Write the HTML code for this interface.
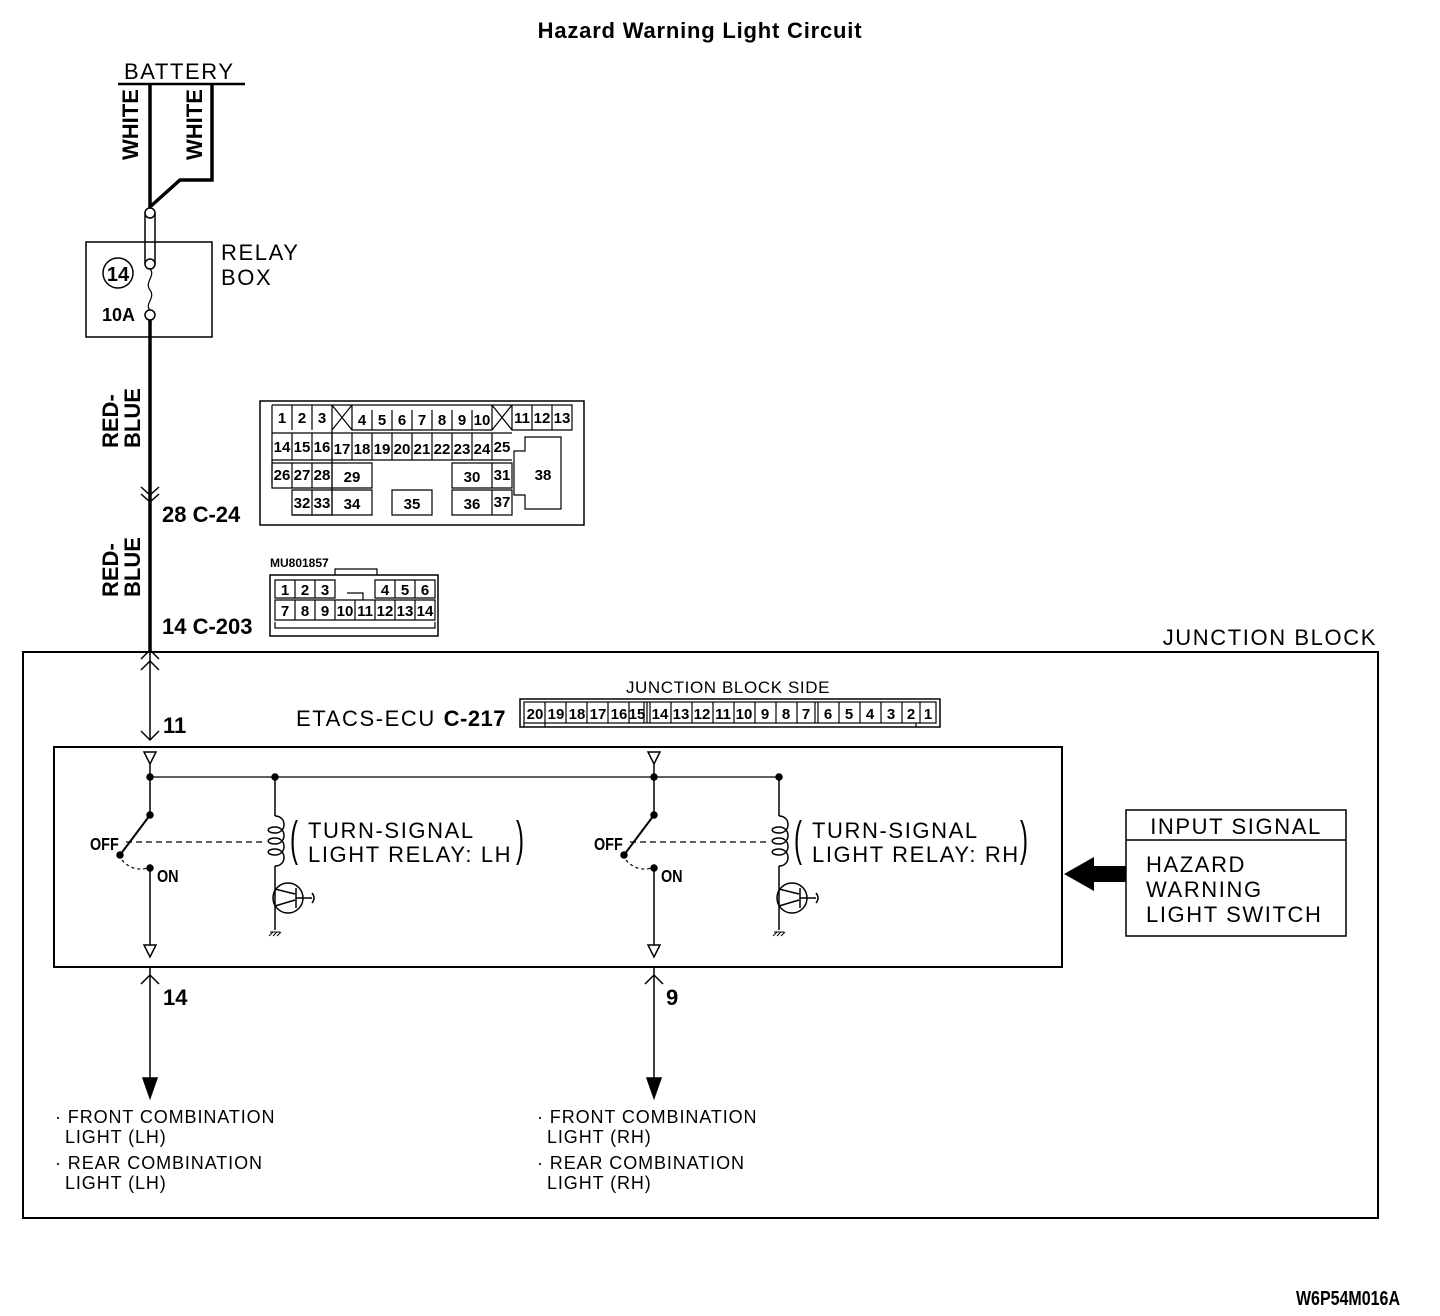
<!DOCTYPE html>
<html><head><meta charset="utf-8"><style>
body{margin:0;background:#fff}
svg{display:block}
text{font-family:"Liberation Sans",sans-serif;fill:#000}
.b{font-weight:bold}
.w{letter-spacing:1.6px}
.s{letter-spacing:0.9px}
.c{font-family:"Liberation Sans Narrow","Liberation Sans",sans-serif;font-weight:bold;font-size:15px;text-anchor:middle}
</style></head><body>
<svg width="1440" height="1316" viewBox="0 0 1440 1316" xmlns="http://www.w3.org/2000/svg" fill="none" stroke="#000">
<text x="700" y="38" class="b" font-size="22" text-anchor="middle" stroke="none" letter-spacing="0.8">Hazard Warning Light Circuit</text>
<!-- battery -->
<text x="124" y="79" font-size="22" stroke="none" class="w">BATTERY</text>
<line x1="118" y1="84" x2="245" y2="84" stroke-width="2.5"/>
<path d="M150 84V208" stroke-width="3.5"/>
<path d="M212 84V180H180L151 206" stroke-width="3.5"/>
<text transform="translate(138,160) rotate(-90)" class="b" font-size="22" stroke="none">WHITE</text>
<text transform="translate(202,160) rotate(-90)" class="b" font-size="22" stroke="none">WHITE</text>
<!-- relay box -->
<rect x="86" y="242" width="126" height="95" stroke-width="1.5"/>
<path d="M145 213V264M155 213V264" stroke-width="1.5"/>
<circle cx="150" cy="213" r="5" fill="#fff" stroke-width="1.5"/>
<circle cx="150" cy="264" r="5" fill="#fff" stroke-width="1.5"/>
<circle cx="150" cy="315" r="5" fill="#fff" stroke-width="1.5"/>
<path d="M150 269C156 276 144 282 150 290C156 298 144 304 150 310" stroke-width="1.2"/>
<circle cx="118" cy="273" r="15" stroke-width="1.5"/>
<text x="118" y="281" class="b" font-size="20" text-anchor="middle" stroke="none">14</text>
<text x="102" y="321" class="b" font-size="18" stroke="none">10A</text>
<text x="221" y="260" font-size="22" stroke="none" class="w">RELAY</text>
<text x="221" y="285" font-size="22" stroke="none" class="w">BOX</text>
<path d="M150 320V652" stroke-width="3.5"/>
<text transform="translate(118,448) rotate(-90)" class="b" font-size="22" stroke="none">RED-</text>
<text transform="translate(140,448) rotate(-90)" class="b" font-size="22" stroke="none">BLUE</text>
<text transform="translate(118,597) rotate(-90)" class="b" font-size="22" stroke="none">RED-</text>
<text transform="translate(140,597) rotate(-90)" class="b" font-size="22" stroke="none">BLUE</text>
<path d="M141 487L150 495L159 487M141 494L150 502L159 494" stroke-width="1.5"/>
<text x="162" y="522" class="b" font-size="22" stroke="none">28 C-24</text>
<path d="M141 659L150 650L159 659M141 670L150 661L159 670" stroke-width="1.5"/>
<text x="162" y="634" class="b" font-size="22" stroke="none">14 C-203</text>
<!-- C-24 connector -->
<g stroke-width="1.2">
<rect x="260" y="401" width="324" height="124" stroke-width="1.5"/>
<path d="M272 405h60v110h-40M272 405v80M332 405h20l-20 25M332 405l20 25M352 405h140v25h-140zM492 405h20l-20 25M492 405l20 25M512 405h60v25h-60z"/>
<path d="M292 405v25M312 405v25M372 410v20M392 410v20M412 410v20M432 410v20M452 410v20M472 410v20M532 405v25M552 405v25"/>
<path d="M272 433h240M272 460h240M352 433v27M372 433v27M392 433v27M412 433v27M432 433v27M452 433v27M472 433v27M492 433v27M292 433v27M312 433v27M332 433v27"/>
<path d="M272 463h60v25h-60zM292 463v25M312 463v25M332 463h40v25h-40zM452 463h40v25h-40zM492 463h20v25h-20z"/>
<path d="M292 490h40v25h-40zM312 490v25M332 490h40v25h-40zM392 490h40v25h-40zM452 490h40v25h-40zM492 490h20v25h-20z"/>
<path d="M525 437h36v72h-36v-14h-11v-44h11z"/>
</g>
<g stroke="none" class="c">
<text x="282" y="423" class="c">1</text><text x="302" y="423" class="c">2</text><text x="322" y="423" class="c">3</text>
<text x="362" y="425" class="c">4</text><text x="382" y="425" class="c">5</text><text x="402" y="425" class="c">6</text><text x="422" y="425" class="c">7</text><text x="442" y="425" class="c">8</text><text x="462" y="425" class="c">9</text><text x="482" y="425" class="c">10</text>
<text x="522" y="423" class="c">11</text><text x="542" y="423" class="c">12</text><text x="562" y="423" class="c">13</text>
<text x="282" y="452" class="c">14</text><text x="302" y="452" class="c">15</text><text x="322" y="452" class="c">16</text><text x="342" y="454" class="c">17</text><text x="362" y="454" class="c">18</text><text x="382" y="454" class="c">19</text><text x="402" y="454" class="c">20</text><text x="422" y="454" class="c">21</text><text x="442" y="454" class="c">22</text><text x="462" y="454" class="c">23</text><text x="482" y="454" class="c">24</text><text x="502" y="452" class="c">25</text>
<text x="282" y="480" class="c">26</text><text x="302" y="480" class="c">27</text><text x="322" y="480" class="c">28</text><text x="352" y="482" class="c">29</text><text x="472" y="482" class="c">30</text><text x="502" y="480" class="c">31</text><text x="543" y="480" class="c">38</text>
<text x="302" y="508" class="c">32</text><text x="322" y="508" class="c">33</text><text x="352" y="509" class="c">34</text><text x="412" y="509" class="c">35</text><text x="472" y="509" class="c">36</text><text x="502" y="507" class="c">37</text>
</g>
<!-- C-203 -->
<text x="270" y="567" class="b" font-size="12" stroke="none">MU801857</text>
<g stroke-width="1.2">
<rect x="270" y="575" width="168" height="61" stroke-width="1.5"/>
<path d="M335 575v-6h42v6"/>
<path d="M275 580h60v18h-60zM295 580v18M315 580v18M375 580h60v18h-60zM395 580v18M415 580v18"/>
<path d="M275 600h160v20h-160zM295 600v20M315 600v20M335 600v20M355 600v20M375 600v20M395 600v20M415 600v20M347 593h16v7"/>
<path d="M275 622v6h160v-6"/>
</g>
<g stroke="none">
<text x="285" y="595" class="c">1</text><text x="305" y="595" class="c">2</text><text x="325" y="595" class="c">3</text><text x="385" y="595" class="c">4</text><text x="405" y="595" class="c">5</text><text x="425" y="595" class="c">6</text>
<text x="285" y="616" class="c">7</text><text x="305" y="616" class="c">8</text><text x="325" y="616" class="c">9</text><text x="345" y="616" class="c">10</text><text x="365" y="616" class="c">11</text><text x="385" y="616" class="c">12</text><text x="405" y="616" class="c">13</text><text x="425" y="616" class="c">14</text>
</g>
<!-- junction block -->
<rect x="23" y="652" width="1355" height="566" stroke-width="2"/>
<text x="1377" y="645" font-size="22" text-anchor="end" stroke="none" class="w">JUNCTION BLOCK</text>
<path d="M150 652V740" stroke-width="1.5"/>
<path d="M141 731L150 740L159 731" stroke-width="1.5"/>
<text x="163" y="733" class="b" font-size="22" stroke="none">11</text>
<text x="296" y="726" font-size="22" stroke="none" class="w">ETACS-ECU <tspan class="b" letter-spacing="0.5">C-217</tspan></text>
<text x="728" y="693" font-size="17" text-anchor="middle" stroke="none" letter-spacing="0.6">JUNCTION BLOCK SIDE</text>
<g stroke-width="1.2">
<rect x="520" y="699" width="420" height="28" stroke-width="1.5"/>
<rect x="524" y="702" width="412" height="21"/>
<path d="M545 702v21M566 702v21M587 702v21M608 702v21M629 702v21M650 702v21M647 702v21M671 702v21M692 702v21M713 702v21M734 702v21M755 702v21M776 702v21M797 702v21M815 702v21M818 702v21M839 702v21M860 702v21M881 702v21M902 702v21M920 702v21M644 702v21"/>
<path d="M524 723v4M545 723v4M916 723v4"/>
</g>
<g stroke="none">
<text x="535" y="719" class="c">20</text><text x="556" y="719" class="c">19</text><text x="577" y="719" class="c">18</text><text x="598" y="719" class="c">17</text><text x="619" y="719" class="c">16</text><text x="637" y="719" class="c">15</text><text x="660" y="719" class="c">14</text><text x="681" y="719" class="c">13</text><text x="702" y="719" class="c">12</text><text x="723" y="719" class="c">11</text><text x="744" y="719" class="c">10</text><text x="765" y="719" class="c">9</text><text x="786" y="719" class="c">8</text><text x="806" y="719" class="c">7</text><text x="828" y="719" class="c">6</text><text x="849" y="719" class="c">5</text><text x="870" y="719" class="c">4</text><text x="891" y="719" class="c">3</text><text x="911" y="719" class="c">2</text><text x="928" y="719" class="c">1</text>
</g>
<!-- ECU box -->
<rect x="54" y="747" width="1008" height="220" stroke-width="2"/>
<path d="M150 777H780" stroke-width="1.3"/>
<g id="half" stroke-width="1.5">
<path d="M144 752h12l-6 12zM150 764V815" />
<path d="M150 815L120 855" stroke-width="2"/>
<circle cx="150" cy="815" r="3" fill="#000"/>
<circle cx="120" cy="855" r="3" fill="#000"/>
<circle cx="150" cy="868" r="3" fill="#000"/>
<circle cx="150" cy="777" r="3" fill="#000"/>
<circle cx="275" cy="777" r="3" fill="#000"/>
<path d="M122 860Q132 872 148 868" stroke-dasharray="3,3" stroke-width="1.2"/>
<path d="M126 842H266" stroke-dasharray="6,4" stroke-width="1.2"/>
<path d="M150 868V945M144 945h12l-6 12z"/>
<path d="M275 777V816M275 866V930"/>
<path d="M275 816c12 0 12 17 0 17c-9 0 -9 -6 0 -6c12 0 12 17 0 17c-9 0 -9 -6 0 -6c12 0 12 17 0 17c-9 0 -9 -6 0 -6c12 0 12 17 0 17"/>
<circle cx="288" cy="898" r="15"/>
<path d="M275 889L295 894M275 906L295 900M296 888V908M296 898H312M312 893q4 5 0 10"/>
<path d="M270 932h10M269 936l4 -4M273 936l4 -4M277 936l4 -4" stroke-width="1"/>
<text x="90" y="850" class="b" font-size="18" stroke="none" transform="translate(90,850) scale(0.8,1) translate(-90,-850)">OFF</text>
<text x="157" y="882" class="b" font-size="18" stroke="none" transform="translate(157,882) scale(0.8,1) translate(-157,-882)">ON</text>
<text x="290" y="855" font-size="48" stroke="none" transform="translate(290,855) scale(0.5,1) translate(-290,-855)">(</text>
<text x="308" y="838" font-size="22" stroke="none" class="w">TURN-SIGNAL</text>
</g>
<text x="308" y="862" font-size="22" stroke="none" class="w">LIGHT RELAY: LH</text>
<text x="516" y="855" font-size="48" stroke="none" transform="translate(516,855) scale(0.5,1) translate(-516,-855)">)</text>
<use href="#half" x="504"/>
<text x="812" y="862" font-size="22" stroke="none" class="w">LIGHT RELAY: RH</text>
<text x="1020" y="855" font-size="48" stroke="none" transform="translate(1020,855) scale(0.5,1) translate(-1020,-855)">)</text>
<!-- outputs -->
<g stroke-width="1.5">
<path d="M150 967V1080M141 984L150 975L159 984"/>
<path d="M143 1078h14l-7 20z" fill="#000"/>
<path d="M654 967V1080M645 984L654 975L663 984"/>
<path d="M647 1078h14l-7 20z" fill="#000"/>
</g>
<text x="163" y="1005" class="b" font-size="22" stroke="none">14</text>
<text x="666" y="1005" class="b" font-size="22" stroke="none">9</text>
<g font-size="18" stroke="none" class="s">
<text x="55" y="1123">· FRONT COMBINATION</text><text x="65" y="1143">LIGHT (LH)</text>
<text x="55" y="1169">· REAR COMBINATION</text><text x="65" y="1189">LIGHT (LH)</text>
<text x="537" y="1123">· FRONT COMBINATION</text><text x="547" y="1143">LIGHT (RH)</text>
<text x="537" y="1169">· REAR COMBINATION</text><text x="547" y="1189">LIGHT (RH)</text>
</g>
<!-- input signal -->
<rect x="1126" y="810" width="220" height="126" stroke-width="1.5"/>
<path d="M1126 840H1346" stroke-width="1.5"/>
<text x="1236" y="834" font-size="22" text-anchor="middle" stroke="none" class="w">INPUT SIGNAL</text>
<text x="1146" y="872" font-size="22" stroke="none" class="w">HAZARD</text>
<text x="1146" y="897" font-size="22" stroke="none" class="w">WARNING</text>
<text x="1146" y="922" font-size="22" stroke="none" class="w">LIGHT SWITCH</text>
<path d="M1064 874L1094 857V866H1126V882H1094V891Z" fill="#000" stroke="none"/>
<text x="1400" y="1305" class="b" font-size="20" text-anchor="end" stroke="none" transform="translate(1400,1305) scale(0.8,1) translate(-1400,-1305)">W6P54M016A</text>
</svg>
</body></html>
